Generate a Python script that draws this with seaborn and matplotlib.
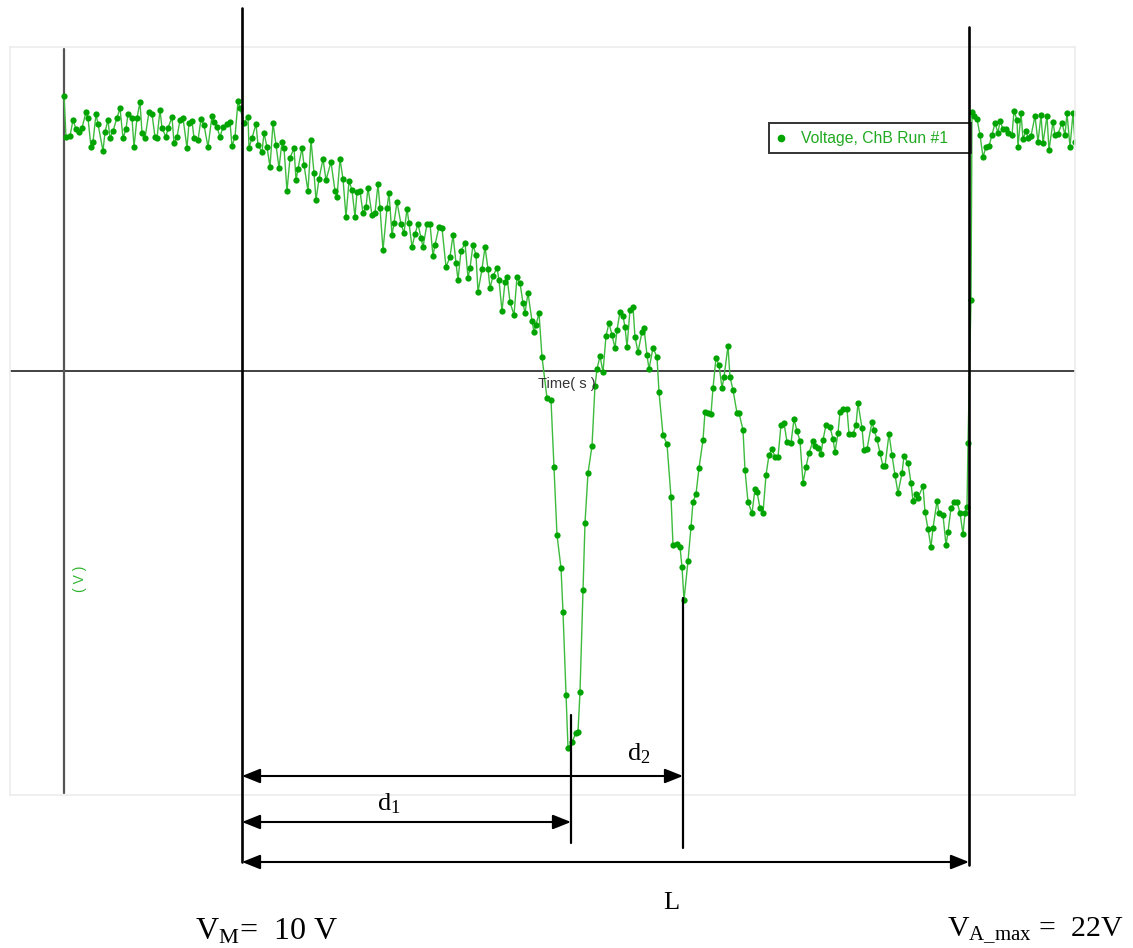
import numpy as np
import pandas as pd
import matplotlib
matplotlib.use("Agg")
import matplotlib.pyplot as plt
import seaborn as sns
from matplotlib.lines import Line2D
from matplotlib.patches import Rectangle

# sampled trace (time in ms, signal in arbitrary units, 0 = time axis)
time_ms = [
    0, 2, 6, 9, 12, 15, 18, 22, 24, 27,
    29, 32, 34, 39, 41, 44, 46, 49, 53, 56,
    59, 62, 64, 68, 70, 73, 76, 78, 81, 85,
    88, 91, 93, 96, 98, 102, 104, 108, 110, 113,
    116, 119, 123, 125, 128, 130, 134, 137, 140, 144,
    148, 150, 153, 156, 159, 163, 166, 168, 171, 174,
    176,
    180, 184, 185, 188, 192, 194, 198, 200, 203, 206,
    209, 212, 215, 218, 220, 223, 226, 230, 232, 234,
    238, 240, 244, 247, 250, 252, 255, 259, 262, 267,
    271, 273, 276, 279, 282, 285, 288, 291, 293, 296,
    299, 302, 304, 308, 311, 314, 316, 319, 323, 325,
    328, 330,
    333, 337, 340, 343, 345, 348, 351, 354, 357, 359,
    363, 366, 369, 371, 375, 378, 382, 386, 389, 392,
    394, 397, 401, 404, 406, 409, 412, 414, 418, 421,
    424, 426, 429, 433, 435, 438, 441, 443, 446, 450,
    453, 456, 459, 461, 464, 468, 470, 472, 475, 478,
    483, 487,
    490, 493, 497, 499, 502, 504, 508, 512, 514, 516,
    519, 521, 524, 528, 531, 533, 536, 539, 542, 545,
    548, 551, 553, 556, 559, 561, 563, 566, 569, 571,
    574, 578, 580, 583, 585, 589, 593, 595, 599, 603,
    607, 609, 613, 616, 618, 620, 624, 627, 629, 632,
    635, 639, 641, 644, 647, 649, 652, 655, 658, 660,
    664, 666, 669, 673, 675, 679, 681, 684, 688, 691,
    693, 696, 699, 702, 705, 708, 711, 714, 717, 720,
    723, 727, 730, 733,
    736, 739, 742, 745, 749, 751, 754, 757, 759, 762,
    766, 769, 771, 774, 776, 779, 783, 785, 789, 792,
    794, 798, 800, 803, 808, 810, 813, 816, 819, 821,
    825, 828, 831, 834, 838, 840, 844, 847, 849, 852,
    854, 859, 861, 864, 867, 869, 873, 875, 879, 882,
    884, 887, 890, 893, 896, 899, 901, 903, 904, 907,
    908,
    910, 913, 916, 919, 922, 925, 928, 931, 934, 936,
    939, 942, 944, 948, 950, 953, 954, 957, 959, 962,
    964, 967, 971, 974, 977, 979, 983, 985, 989, 991,
    994, 998, 1001, 1003, 1006, 1009, 1011,
]
signal = [
    275, 234, 235, 251, 242, 239, 243, 259, 253, 224,
    229, 257, 247, 220, 239, 251, 233, 240, 253, 263,
    233, 242, 257, 253, 224, 253, 269, 238, 233, 259,
    257, 234, 233, 261, 243, 234, 243, 254, 228, 234,
    251, 253, 223, 248, 250, 233, 231, 252, 246, 224,
    255, 249, 244, 234, 244, 247, 249, 225, 234, 270,
    263,
    248, 254, 223, 233, 247, 226, 219, 238, 224, 204,
    248, 226, 203, 229, 223, 180, 213, 223, 191, 202,
    223, 206, 180, 231, 198, 171, 192, 212, 191, 209,
    180, 174, 212, 192, 154, 190, 181, 154, 179, 180,
    158, 164, 183, 156, 158, 187, 163, 121, 163, 178,
    136, 148,
    169, 147, 138, 162, 148, 124, 137, 147, 133, 124,
    147, 147, 115, 126, 144, 143, 104, 114, 136, 108,
    91, 120, 128, 93, 103, 126, 116, 79, 102, 124,
    102, 83, 95, 103, 91, 60, 89, 94, 69, 56,
    94, 88, 68, 58, 78, 50, 39, 46, 58, 14,
    -27, -29,
    -96, -164, -197, -241, -324, -377, -371, -362, -361, -321,
    -219, -152, -102, -75, -15, 2, 15, -1, 35, 48,
    36, 23, 41, 59, 55, 44, 24, 61, 64, 34,
    19, 39, 43, 16, 2, 23, 14, -21, -64, -73,
    -126, -174, -173, -176, -196, -229, -190, -156, -131, -123,
    -97, -69, -41, -42, -43, -17, 13, 6, -17, -6,
    25, -6, -19, -42, -42, -59, -99, -131, -142, -118,
    -121, -137, -142, -104, -84, -78, -86, -86, -54, -52,
    -71, -72, -48, -60,
    -70, -112, -96, -82, -70, -75, -77, -83, -69, -54,
    -56, -68, -81, -62, -41, -38, -38, -63, -63, -54,
    -32, -57, -79, -78, -51, -59, -68, -82, -95, -95,
    -63, -84, -104, -122, -102, -85, -92, -112, -130, -123,
    -127, -115, -141, -158, -176, -157, -130, -142, -144, -174,
    -161, -137, -131, -131, -142, -163, -142, -136, -72, 71,
    259,
    255, 252, 236, 214, 224, 225, 236, 248, 238, 250,
    242, 242, 238, 236, 260, 251, 224, 258, 232, 240,
    233, 235, 255, 229, 256, 228, 255, 221, 249, 236,
    237, 248, 236, 258, 224, 258, 229,
]

# annotation positions (ms): start, first dip, second dip, end
t_start, t_dip1, t_dip2, t_end = 178, 507, 619, 905

df = pd.DataFrame({"time": time_ms, "signal": signal})

sns.set_style("white")
plt.rcParams["font.family"] = ["Liberation Sans", "DejaVu Sans"]
plt.rcParams["mathtext.fontset"] = "stix"

fig = plt.figure(figsize=(11.33, 9.48), dpi=100)
ax = fig.add_axes([10 / 1133, 1 - 795 / 948, 1065 / 1133, 748 / 948])

sns.lineplot(data=df, x="time", y="signal", sort=False, estimator=None,
             color="#3dbb3d", lw=1.0, marker="o", markersize=4.5,
             markerfacecolor="#00a400", markeredgecolor="#00a400",
             markeredgewidth=0, ax=ax, legend=False)

ax.set_xlim(-54, 1011)
ax.set_ylim(-424, 324)
ax.set_xticks([])
ax.set_yticks([])
ax.set_xlabel("")
ax.set_ylabel("")
for sp in ax.spines.values():
    sp.set_color("#ececec")
    sp.set_linewidth(1.2)

# axes through origin
ax.axhline(0, color="#333333", lw=1.3, zorder=1)
ax.axvline(0, ymin=0.003, ymax=0.997, color="#555555", lw=1.6, zorder=1)
ax.text(474, -17, "Time( s )", fontsize=10.5, color="#333333", va="baseline")
ax.text(16, -208, "( V )", fontsize=10, color="#2fb52f", rotation=90,
        ha="center", va="center")

# legend with its own frame
handle = Line2D([], [], ls="none", marker="o", ms=4.5, color="#00a400")
ax.legend([handle], ["Voltage, ChB Run #1"], loc="upper left",
          bbox_to_anchor=(0.715, 0.894), frameon=False, fontsize=11.3,
          labelcolor="#22aa22", handlelength=0.6, handletextpad=1.0,
          borderpad=0.3, borderaxespad=0)
ax.add_patch(Rectangle((759 / 1065, (795 - 153) / 748), 202 / 1065, 30 / 748,
                       transform=ax.transAxes, fill=False, ec="#333333",
                       lw=1.4, clip_on=False, zorder=5))

# dimension lines
line_kw = dict(color="black", clip_on=False, zorder=6)
ax.plot([t_start, t_start], [363, -491], lw=1.9, **line_kw)
ax.plot([t_end, t_end], [344, -494], lw=1.9, **line_kw)
ax.plot([t_dip1, t_dip1], [-344, -472], lw=1.6, **line_kw)
ax.plot([t_dip2, t_dip2], [-227, -477], lw=1.6, **line_kw)

arrow_kw = dict(arrowstyle="<|-|>,head_length=0.55,head_width=0.22",
                mutation_scale=20, lw=1.5, color="black",
                shrinkA=0, shrinkB=0)
for t_to, y in [(t_dip2, -405), (t_dip1, -451), (t_end, -491)]:
    ax.annotate("", xy=(t_to, y), xytext=(t_start, y),
                arrowprops=arrow_kw, annotation_clip=False)

serif = dict(family="Liberation Serif", color="black", va="baseline",
             clip_on=False)
ax.text(313, -439, r"$\mathregular{d_1}$", fontsize=19, **serif)
ax.text(563, -389, r"$\mathregular{d_2}$", fontsize=19, **serif)
ax.text(599, -538, "L", fontsize=19, **serif)
ax.text(131, -568, r"$\mathregular{V_M}$=  10 V", fontsize=23, **serif)
ax.text(883, -566, r"$\mathregular{V_{A\_max}}$ =  22V", fontsize=21.5,
        **serif)

fig.savefig("out.png", dpi=100)
